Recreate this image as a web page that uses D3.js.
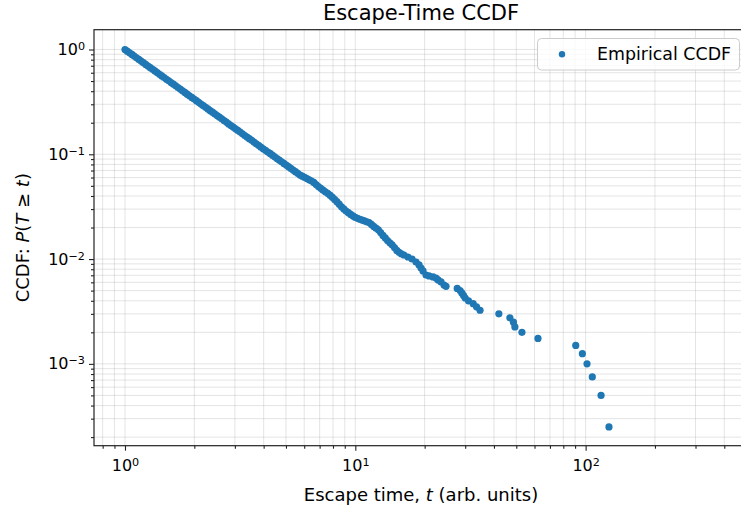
<!DOCTYPE html>
<html><head><meta charset="utf-8">
<script src="https://cdn.jsdelivr.net/npm/d3@7"></script>
<style>body{margin:0;background:#fff}svg{display:block}text{font-family:"DejaVu Sans",sans-serif;fill:#000}</style>
</head><body><svg id="c" width="741" height="513"></svg>
<script>
// Escape times (arb. units) and empirical CCDF values
const escapeTime = [
  1, 1.023, 1.047, 1.072, 1.096, 1.122, 1.148, 1.175, 1.202, 1.230, 1.259, 1.288, 1.318, 1.349, 1.380, 1.413, 1.445, 1.479, 1.514, 1.549,
  1.585, 1.622, 1.660, 1.698, 1.738, 1.778, 1.820, 1.862, 1.905, 1.950, 1.995, 2.042, 2.089, 2.138, 2.188, 2.239, 2.291, 2.344, 2.399, 2.455,
  2.512, 2.570, 2.630, 2.692, 2.754, 2.818, 2.884, 2.951, 3.020, 3.090, 3.162, 3.236, 3.311, 3.388, 3.467, 3.548, 3.631, 3.715, 3.802, 3.890,
  3.981, 4.074, 4.169, 4.266, 4.365, 4.467, 4.571, 4.677, 4.786, 4.898, 5.012, 5.129, 5.248, 5.370, 5.495, 5.623, 5.754, 5.888, 6.026, 6.166,
  6.310, 6.457, 6.607, 6.761, 6.918, 7.079, 7.244, 7.413, 7.586, 7.762, 7.943, 8.128, 8.318, 8.511, 8.710, 8.913, 9.120, 9.333, 9.550, 9.772,
  10.00, 10.23, 10.47, 10.72, 10.96, 11.22, 11.48, 11.75, 12.02, 12.30, 12.59, 12.88, 13.18, 13.49, 13.80, 14.13, 14.45, 14.79, 15.14, 15.49, 15.85,
  16.27, 16.93, 17.63, 18.35, 18.91, 19.29, 19.68, 20.28, 20.89, 21.75, 22.41, 22.87, 23.56, 24.28, 24.77,
  27.7, 28.5, 29.0, 29.5, 30.0, 31.0, 32.5, 33.6, 34.8, 42.0, 46.9, 48.6, 49.3, 52.9, 62.1, 90.6, 96.8, 101.4, 106.9, 116.7, 126.3];
const ccdf = [
  1, 0.964, 0.930, 0.897, 0.865, 0.834, 0.804, 0.776, 0.748, 0.721, 0.696, 0.671, 0.647, 0.624, 0.602, 0.580, 0.560, 0.540, 0.520, 0.502,
  0.484, 0.467, 0.450, 0.434, 0.419, 0.404, 0.389, 0.375, 0.362, 0.349, 0.337, 0.325, 0.313, 0.302, 0.291, 0.281, 0.271, 0.261, 0.252, 0.243,
  0.234, 0.226, 0.218, 0.210, 0.203, 0.195, 0.188, 0.182, 0.175, 0.169, 0.163, 0.157, 0.151, 0.146, 0.141, 0.136, 0.131, 0.126, 0.122, 0.117,
  0.113, 0.109, 0.105, 0.102, 0.0980, 0.0945, 0.0912, 0.0879, 0.0848, 0.0818, 0.0789, 0.0761, 0.0733, 0.0707, 0.0682, 0.0658, 0.0634, 0.0618, 0.0602, 0.0586,
  0.0571, 0.0555, 0.0539, 0.0515, 0.0492, 0.0473, 0.0454, 0.0439, 0.0424, 0.0407, 0.0390, 0.0371, 0.0353, 0.0334, 0.0315, 0.0301, 0.0287, 0.0277, 0.0267, 0.0258,
  0.0250, 0.0245, 0.0240, 0.0235, 0.0231, 0.0227, 0.0223, 0.0214, 0.0205, 0.0197, 0.0190, 0.0179, 0.0168, 0.0159, 0.0150, 0.0143, 0.0137, 0.0129, 0.0121, 0.0116, 0.0112,
  0.01094, 0.01047, 0.01002, 0.00938, 0.00879, 0.00822, 0.00770, 0.00705, 0.00690, 0.00675, 0.00660, 0.00632, 0.00605, 0.00566, 0.00550,
  0.00525, 0.0050, 0.00475, 0.0045, 0.00425, 0.0040, 0.00375, 0.0035, 0.00325, 0.0030, 0.00275, 0.0025, 0.00225, 0.0020, 0.00175, 0.0015, 0.00125, 0.0010, 0.00075, 0.0005, 0.00025];
const xMajorTicks = [1, 10, 100];
const yMajorTicks = [1, 0.1, 0.01, 0.001];
const xDomain = [0.7336, 507];
const yDomain = [1.545, 1.656e-4];
const titleText = "Escape-Time CCDF";
const legendLabel = "Empirical CCDF";

const svg = d3.select("#c");
const L = 94, R = 748, T = 29.7, B = 445.7;
const x = d3.scaleLog().domain(xDomain).range([L, R]);
const y = d3.scaleLog().domain(yDomain).range([T, B]);

function minorTicks(dom) {
  const lo = Math.min(...dom), hi = Math.max(...dom), out = [];
  for (let e = Math.floor(Math.log10(lo)); e <= Math.ceil(Math.log10(hi)); e++)
    for (let m = 2; m <= 9; m++) { const v = m * Math.pow(10, e); if (v >= lo && v <= hi) out.push(v); }
  return out;
}
const xMinor = minorTicks(xDomain), yMinor = minorTicks(yDomain);

// grid
const grid = svg.append("g").attr("stroke", "#b0b0b0").attr("stroke-opacity", 0.38).attr("stroke-width", 0.9);
grid.selectAll(".gx").data(xMajorTicks.concat(xMinor)).join("line")
  .attr("x1", d => x(d)).attr("x2", d => x(d)).attr("y1", T).attr("y2", B);
grid.selectAll(".gy").data(yMajorTicks.concat(yMinor)).join("line")
  .attr("y1", d => y(d)).attr("y2", d => y(d)).attr("x1", L).attr("x2", R);

// points
svg.append("clipPath").attr("id", "clip").append("rect").attr("x", L).attr("y", T).attr("width", R - L).attr("height", B - T);
svg.append("g").attr("clip-path", "url(#clip)").selectAll("circle")
  .data(escapeTime.map((t, i) => [t, ccdf[i]])).join("circle")
  .attr("cx", d => x(d[0])).attr("cy", d => y(d[1])).attr("r", 3.6).attr("fill", "#1f77b4");

function supLabel(sel) {
  sel.each(function (d) {
    const e = Math.round(Math.log10(d));
    const t = d3.select(this).text("");
    t.append("tspan").text("10");
    t.append("tspan").attr("dy", "-0.45em").attr("font-size", "0.7em").text(String(e).replace("-", "\u2212"));
  });
}
const fs = 16;
// x axis
const gx = svg.append("g").attr("transform", `translate(0,${B})`);
gx.call(d3.axisBottom(x).tickValues(xMajorTicks).tickSize(5).tickPadding(9).tickFormat(d => d));
gx.selectAll(".tick text").attr("font-size", fs).attr("font-family", "DejaVu Sans").call(supLabel);
gx.append("g").call(d3.axisBottom(x).tickValues(xMinor).tickSize(3).tickFormat(""));
gx.selectAll(".domain").remove();
// y axis
const gy = svg.append("g").attr("transform", `translate(${L},0)`);
gy.call(d3.axisLeft(y).tickValues(yMajorTicks).tickSize(5).tickPadding(4).tickFormat(d => d));
gy.selectAll(".tick text").attr("font-size", fs).attr("font-family", "DejaVu Sans").call(supLabel);
gy.append("g").call(d3.axisLeft(y).tickValues(yMinor).tickSize(3).tickFormat(""));
gy.selectAll(".domain").remove();
svg.selectAll(".tick line").attr("stroke", "#222").attr("stroke-width", 1.1);

// frame
svg.append("rect").attr("x", L).attr("y", T).attr("width", R - L).attr("height", B - T)
  .attr("fill", "none").attr("stroke", "#222").attr("stroke-width", 1.2);

// title & labels
svg.append("text").attr("x", (L + R) / 2).attr("y", 20).attr("text-anchor", "middle").attr("font-size", 21).text(titleText);
const xl = svg.append("text").attr("x", (L + R) / 2).attr("y", 501).attr("text-anchor", "middle").attr("font-size", 18);
xl.append("tspan").text("Escape time, ");
xl.append("tspan").attr("font-style", "italic").text("t");
xl.append("tspan").text(" (arb. units)");
const yl = svg.append("text").attr("transform", `translate(29,${(T + B) / 2}) rotate(-90)`).attr("text-anchor", "middle").attr("font-size", 18);
yl.append("tspan").text("CCDF: ");
yl.append("tspan").attr("font-style", "italic").text("P");
yl.append("tspan").text("(");
yl.append("tspan").attr("font-style", "italic").text("T");
yl.append("tspan").text(" \u2265 ");
yl.append("tspan").attr("font-style", "italic").text("t");
yl.append("tspan").text(")");

// legend
const lg = svg.append("g");
lg.append("rect").attr("x", 537.5).attr("y", 38.5).attr("width", 202).attr("height", 31.5).attr("rx", 4)
  .attr("fill", "#fff").attr("fill-opacity", 0.8).attr("stroke", "#cccccc").attr("stroke-width", 1);
lg.append("circle").attr("cx", 562).attr("cy", 54.3).attr("r", 3.2).attr("fill", "#1f77b4");
lg.append("text").attr("x", 597).attr("y", 60.3).attr("font-size", 17.4).text(legendLabel);
</script></body></html>
